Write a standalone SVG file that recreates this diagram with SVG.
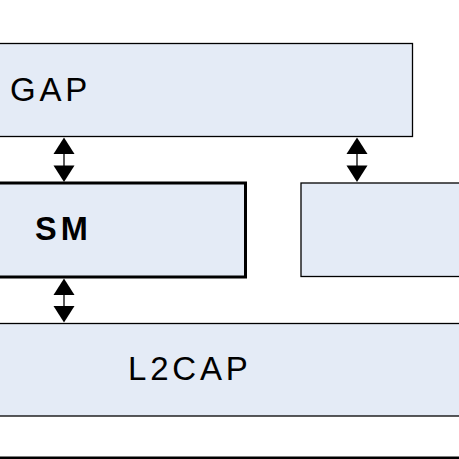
<svg xmlns="http://www.w3.org/2000/svg" width="459" height="459" viewBox="0 0 459 459">
<style>
.box{fill:#e4ebf6;stroke:#000;stroke-width:1.3}
.lbl{font-family:"Liberation Sans",Arial,sans-serif;font-size:33px;fill:#000;letter-spacing:3.8px}
.conn line{stroke:#000;stroke-width:1.3}
.conn path{fill:#000}
</style>
<rect width="459" height="459" fill="#fff"/>
<g id="gap">
<rect class="box" x="-5" y="43.5" width="417.5" height="93"/>
<text class="lbl" x="10" y="100.5">GAP</text>
</g>
<g id="sm">
<rect class="box" x="-5" y="183" width="250.5" height="94" style="stroke-width:3"/>
<text class="lbl" x="35" y="240" style="font-weight:bold;font-size:32.5px;letter-spacing:4px">SM</text>
</g>
<g id="right">
<rect class="box" x="301" y="183" width="165" height="93.5"/>
</g>
<g id="l2cap">
<rect class="box" x="-5" y="323.5" width="470" height="92.5"/>
<text class="lbl" x="128" y="380">L2CAP</text>
</g>
<g id="bottom">
<line x1="0" y1="458" x2="459" y2="458" stroke="#000" stroke-width="3"/>
</g>
<g class="conn">
<line x1="64" y1="150" x2="64" y2="170"/>
<path d="M64,137.5 L53.5,154 L74.5,154 Z"/>
<path d="M64,182 L53.5,165.5 L74.5,165.5 Z"/>
<line x1="357" y1="150" x2="357" y2="170"/>
<path d="M357,137.5 L346.5,154 L367.5,154 Z"/>
<path d="M357,182 L346.5,165.5 L367.5,165.5 Z"/>
<line x1="64" y1="290" x2="64" y2="310"/>
<path d="M64,278.5 L53.5,295 L74.5,295 Z"/>
<path d="M64,322.5 L53.5,306 L74.5,306 Z"/>
</g>
</svg>
